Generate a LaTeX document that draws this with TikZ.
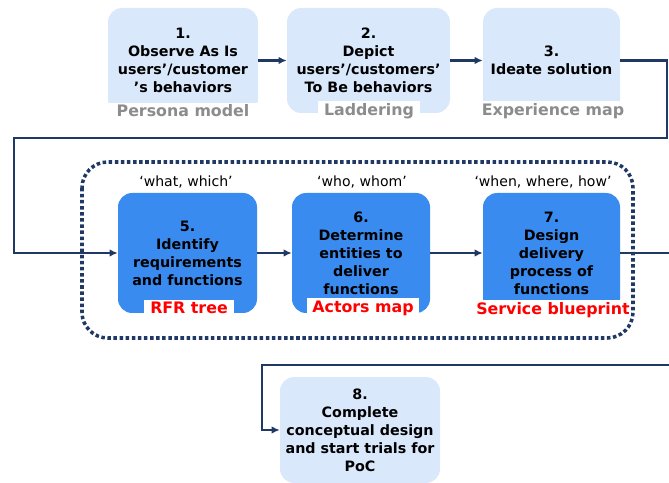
\documentclass[tikz,border=0pt]{standalone}
\usepackage{fontspec}
\setmainfont{DejaVu Sans}
\usetikzlibrary{arrows.meta}
\definecolor{paleBlue}{RGB}{218,232,252}
\definecolor{midBlue}{RGB}{58,139,239}
\definecolor{navyLine}{RGB}{31,56,100}
\definecolor{toolGray}{RGB}{140,140,140}
\newcommand{\stepFont}{\fontsize{12.2}{15.4}\selectfont\bfseries}
\newcommand{\toolFont}{\fontsize{13.5}{15}\selectfont\bfseries}
\newcommand{\askFont}{\fontsize{12}{15}\selectfont}

\begin{document}
\begin{tikzpicture}[x=0.03cm, y=-0.03cm,
        paleStep/.style={rectangle, rounded corners=12pt, fill=paleBlue, align=center, font=\stepFont, inner sep=0pt},
        blueStep/.style={paleStep, fill=midBlue},
        toolTag/.style={fill=white, font=\toolFont, inner xsep=5pt, inner ysep=2pt},
        askTag/.style={font=\askFont, inner sep=1pt},
        flow/.style={draw=navyLine, line width=2pt, -{Latex[length=7pt,width=6.5pt]}}]
        \clip (0,0) rectangle (669,483);

        % top row
        \node[paleStep, minimum width=150*0.03cm, minimum height=105*0.03cm] (step1) at (183,60.5) {1.\\Observe As Is\\users’/customer\\’s behaviors};
        \node[paleStep, minimum width=163*0.03cm, minimum height=105*0.03cm] (step2) at (368.5,60.5) {2.\\Depict\\users’/customers’\\To Be behaviors};
        \node[paleStep, minimum width=137*0.03cm, minimum height=105*0.03cm] (step3) at (551.5,60.5) {3.\\Ideate solution};
        \node[toolTag, text=toolGray, minimum width=154*0.03cm] (persona) at (183,111) {Persona model};
        \node[toolTag, text=toolGray] (laddering) at (369,111) {Laddering};
        \node[toolTag, text=toolGray, minimum width=145*0.03cm] (expmap) at (553,111) {Experience map};

        % middle row
        \node[askTag] (askWhat) at (186,182) {‘what, which’};
        \node[askTag] (askWho) at (362,182) {‘who, whom’};
        \node[askTag] (askWhen) at (543,182) {‘when, where, how’};
        \node[blueStep, minimum width=139*0.03cm, minimum height=120*0.03cm] (step5) at (187.5,253) {5.\\Identify\\requirements\\and functions};
        \node[blueStep, minimum width=138*0.03cm, minimum height=120*0.03cm] (step6) at (361,253) {6.\\Determine\\entities to\\deliver\\functions};
        \node[blueStep, minimum width=137*0.03cm, minimum height=120*0.03cm] (step7) at (551.5,253) {7.\\Design\\delivery\\process of\\functions};
        \node[toolTag, text=red] (rfr) at (189,308) {RFR tree};
        \node[toolTag, text=red] (actors) at (363,308) {Actors map};
        \node[toolTag, text=red, minimum width=145*0.03cm] (blueprint) at (553,310) {Service blueprint};

        % bottom
        \node[paleStep, minimum width=160*0.03cm, minimum height=106*0.03cm] (step8) at (360,430) {8.\\Complete\\conceptual design\\and start trials for\\PoC};

        % connectors
        \coordinate (rightTop) at (667,138);
        \coordinate (leftMid) at (14,138);
        \coordinate (rightLow) at (690,365);
        \coordinate (leftLow) at (262,365);
        \draw[flow] (step1.east |- step2.west) -- (step2.west);
        \draw[flow] (step2.east) -- (step3.west);
        \draw[flow] (step3.east) -| (rightTop) -- (leftMid) |- (step5.west);
        \draw[flow] (step5.east) -- (step6.west);
        \draw[flow] (step6.east) -- (step7.west);
        \draw[flow] (step7.east) -| (rightLow) -- (leftLow) |- (step8.west);

        % dotted frame round 5-7
        \draw[navyLine, line width=3pt, dash pattern=on 3pt off 2.2pt, rounded corners=22pt] (82,162) rectangle (633,338);
\end{tikzpicture}
\end{document}
